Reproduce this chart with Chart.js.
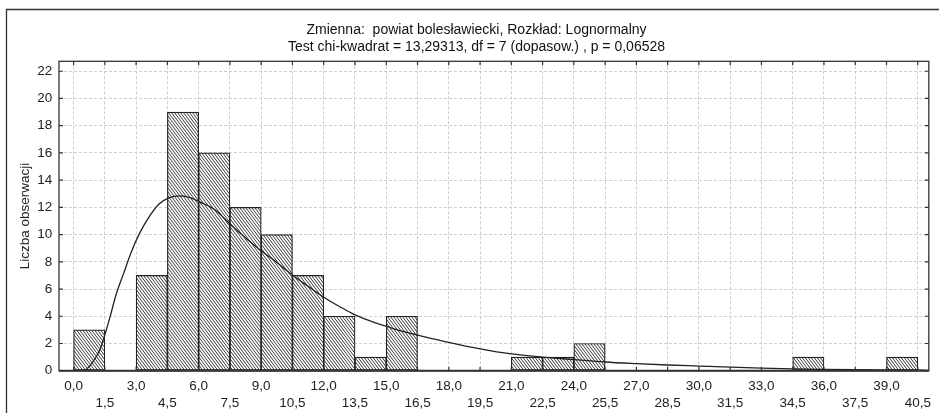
<!DOCTYPE html>
<html>
<head>
<meta charset="utf-8">
<script src="https://cdn.jsdelivr.net/npm/chart.js@4"></script>
<style>
  body { margin: 0; background: #fff; }
</style>
</head>
<body>
<canvas id="chart" width="939" height="413"></canvas>
<script>
// histogram bins (lower edge) and counts, bin width 1.5
const binWidth = 1.5;
const binStart = [0, 1.5, 3, 4.5, 6, 7.5, 9, 10.5, 12, 13.5, 15, 16.5, 18, 19.5, 21, 22.5, 24, 25.5, 27, 28.5, 30, 31.5, 33, 34.5, 36, 37.5, 39];
const counts   = [3, 0, 7, 19, 16, 12, 10, 7, 4, 1, 4, 0, 0, 0, 1, 1, 2, 0, 0, 0, 0, 0, 0, 1, 0, 0, 1];

// fitted lognormal curve
const curveX = [0.35, 0.55, 0.9, 1.25, 1.55, 1.75, 2.05, 2.4, 2.75, 3.15, 3.6, 4.1, 4.6, 5.1, 5.6, 6.05, 6.8, 7.55, 8.3, 9.05, 9.8, 10.5, 11.25, 12.0, 12.75, 13.5, 14.25, 15.05, 15.75, 16.5, 18.0, 19.5, 21.0, 22.5, 24.0, 25.5, 27.0, 28.5, 30.0, 31.5, 33.0, 34.5, 36.0, 37.5, 39.0, 40.5, 41.0];
const curveY = [0, 0.05, 0.6, 1.5, 2.9, 3.95, 5.65, 7.15, 8.65, 10.05, 11.25, 12.25, 12.72, 12.85, 12.72, 12.4, 11.8, 10.7, 9.7, 8.75, 7.9, 7.03, 6.2, 5.4, 4.72, 4.1, 3.65, 3.23, 2.9, 2.62, 2.08, 1.6, 1.23, 1.0, 0.82, 0.64, 0.52, 0.42, 0.34, 0.26, 0.19, 0.14, 0.1, 0.07, 0.05, 0.04, 0.03];

const xTicks = [0, 1.5, 3, 4.5, 6, 7.5, 9, 10.5, 12, 13.5, 15, 16.5, 18, 19.5, 21, 22.5, 24, 25.5, 27, 28.5, 30, 31.5, 33, 34.5, 36, 37.5, 39, 40.5];
const yTicks = [0, 2, 4, 6, 8, 10, 12, 14, 16, 18, 20, 22];

const titleLines = [
  'Zmienna:  powiat bolesławiecki, Rozkład: Lognormalny',
  'Test chi-kwadrat = 13,29313, df = 7 (dopasow.) , p = 0,06528'
];

const FONT = "'Liberation Sans', Arial, sans-serif";
const INK = '#222';

// steep "\" hatching, 3px across, 4px down per stripe
function hatch() {
  const c = document.createElement('canvas');
  c.width = 3; c.height = 4;
  const g = c.getContext('2d');
  g.fillStyle = '#fff';
  g.fillRect(0, 0, 3, 4);
  g.strokeStyle = '#222';
  g.lineWidth = 0.9;
  g.beginPath();
  for (let k = -1; k <= 1; k++) {
    g.moveTo(3 * k - 3, -4);
    g.lineTo(3 * k + 6, 8);
  }
  g.stroke();
  return g.createPattern(c, 'repeat');
}

const fmt = v => v.toFixed(1).replace('.', ',');

// outer frame + plot frame with inward ticks
const frame = {
  id: 'frame',
  beforeDraw(c) {
    const ctx = c.ctx;
    ctx.save();
    ctx.strokeStyle = '#333';
    ctx.lineWidth = 1.3;
    ctx.beginPath();
    ctx.moveTo(6.5, 413);
    ctx.lineTo(6.5, 9.5);
    ctx.lineTo(939, 9.5);
    ctx.stroke();
    ctx.restore();
  },
  afterDraw(c) {
    const ctx = c.ctx;
    const {left, right, top, bottom} = c.chartArea;
    ctx.save();
    ctx.strokeStyle = '#333';
    ctx.lineWidth = 1.3;
    ctx.strokeRect(left, top, right - left, bottom - top);
    ctx.lineWidth = 2;
    ctx.beginPath();
    ctx.moveTo(left, bottom); ctx.lineTo(right, bottom);
    ctx.stroke();
    ctx.lineWidth = 1.2;
    ctx.beginPath();
    c.scales.x.ticks.forEach(t => {
      const px = c.scales.x.getPixelForValue(t.value);
      ctx.moveTo(px, bottom); ctx.lineTo(px, bottom - 4);
      ctx.moveTo(px, top); ctx.lineTo(px, top + 4);
    });
    c.scales.y.ticks.forEach(t => {
      const py = c.scales.y.getPixelForValue(t.value);
      ctx.moveTo(left, py); ctx.lineTo(left + 4, py);
      ctx.moveTo(right, py); ctx.lineTo(right - 4, py);
    });
    ctx.stroke();
    ctx.restore();
  }
};

const barData = binStart.map((s, i) => ({ x: s + binWidth / 2, y: counts[i] > 0 ? counts[i] : null }));
const lineData = curveX.map((x, i) => ({ x: x, y: curveY[i] }));

new Chart(document.getElementById('chart'), {
  type: 'bar',
  data: {
    datasets: [
      {
        type: 'line',
        data: lineData,
        borderColor: INK,
        borderWidth: 1.3,
        pointRadius: 0,
        cubicInterpolationMode: 'monotone',
        fill: false,
        order: 0
      },
      {
        data: barData,
        backgroundColor: hatch(),
        borderColor: '#222',
        borderWidth: 1.2,
        borderSkipped: false,
        barPercentage: 1,
        categoryPercentage: 1,
        order: 1
      }
    ]
  },
  options: {
    responsive: false,
    animation: false,
    devicePixelRatio: 1,
    layout: { padding: { left: 21.3, right: 7.3, top: 0, bottom: 0 } },
    plugins: {
      legend: { display: false },
      tooltip: { enabled: false },
      title: {
        display: true,
        text: titleLines,
        color: '#111',
        font: { family: FONT, size: 14, weight: 'normal', lineHeight: 1.2 },
        padding: { top: 21.6, bottom: 6.1 }
      }
    },
    scales: {
      x: {
        type: 'linear',
        min: -0.7,
        max: 41.03,
        offset: false,
        afterBuildTicks: s => { s.ticks = xTicks.map(v => ({ value: v })); },
        afterFit: s => { s.height = 42.3; },
        grid: { color: '#cfcfcf', lineWidth: 1, drawTicks: false, offset: false },
        border: { display: false, dash: [3, 2] },
        ticks: {
          autoSkip: false,
          maxRotation: 0,
          minRotation: 0,
          padding: 8,
          color: INK,
          font: { family: FONT, size: 13.5, lineHeight: 1.19 },
          callback: (v, i) => (i % 2 === 0 ? [fmt(v), ''] : ['', fmt(v)])
        }
      },
      y: {
        min: 0,
        max: 22.73,
        afterBuildTicks: s => { s.ticks = yTicks.map(v => ({ value: v })); },
        afterFit: s => { s.width = 59 - 21.3; },
        grid: { color: '#cfcfcf', lineWidth: 1, drawTicks: false },
        border: { display: false, dash: [3, 2] },
        ticks: {
          padding: 6.7,
          color: INK,
          font: { family: FONT, size: 13.5 }
        },
        title: {
          display: true,
          text: 'Liczba obserwacji',
          color: INK,
          font: { family: FONT, size: 13.5, lineHeight: 1.2 },
          padding: { top: -4.4, bottom: 0 }
        }
      }
    }
  },
  plugins: [frame]
});
</script>
</body>
</html>
